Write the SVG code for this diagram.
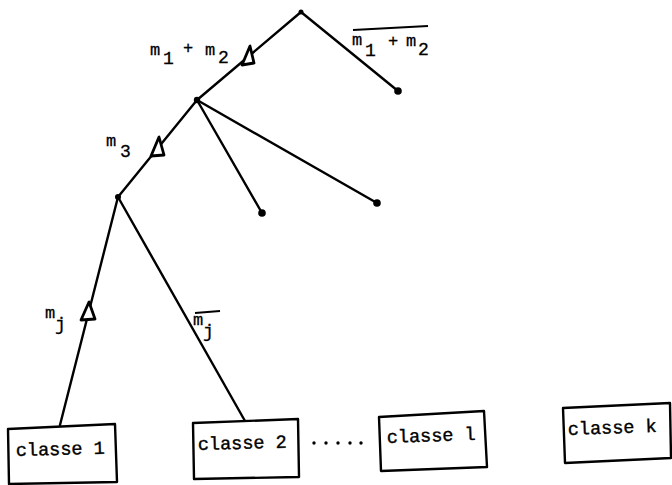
<svg xmlns="http://www.w3.org/2000/svg" width="672" height="485" viewBox="0 0 672 485">
<style>
.ln{stroke:#000;stroke-width:2.4;fill:none;stroke-linecap:round}
.box{stroke:#000;stroke-width:2.4;fill:#fff;stroke-linejoin:round}
.tri{stroke:#000;stroke-width:2.8;fill:#fff;stroke-linejoin:round}
.t{font-family:"Liberation Mono","DejaVu Sans Mono",monospace;font-size:18.5px;fill:#000;stroke:#000;stroke-width:0.4}
.m{font-family:"Liberation Mono","DejaVu Sans Mono",monospace;font-size:17px;fill:#000;stroke:#000;stroke-width:0.3}
.d{font-family:"Liberation Mono","DejaVu Sans Mono",monospace;font-size:18px;fill:#000;stroke:#000;stroke-width:0.3}
</style>
<rect width="672" height="485" fill="#fff"/>
<g id="connectors">
<line class="ln" x1="301" y1="12" x2="398" y2="91"/>
<line class="ln" x1="301" y1="12" x2="197" y2="100"/>
<line class="ln" x1="197" y1="100" x2="262" y2="213"/>
<line class="ln" x1="197" y1="100" x2="377" y2="203"/>
<line class="ln" x1="197" y1="100" x2="118" y2="197"/>
<line class="ln" x1="118" y1="197" x2="60" y2="425"/>
<line class="ln" x1="118" y1="197" x2="245" y2="421"/>
<polygon class="tri" points="250,46 242,65 254,63"/>
<polygon class="tri" points="159,137 151,156 164,155"/>
<polygon class="tri" points="89,302 81,320 95,319"/>
<line x1="353" y1="30" x2="428" y2="26" stroke="#000" stroke-width="2.2"/>
<line x1="195" y1="313" x2="220" y2="311" stroke="#000" stroke-width="2.2"/>
</g>
<g id="nodes">
<g id="root"><circle cx="301" cy="12" r="2.5"/></g>
<g id="n1"><circle cx="197" cy="100" r="3.2"/></g>
<g id="n2"><circle cx="118" cy="197" r="3"/></g>
<g id="leaf1"><circle cx="398" cy="91" r="3.8"/></g>
<g id="leaf2"><circle cx="262" cy="213" r="3.8"/></g>
<g id="leaf3"><circle cx="377" cy="203" r="3.8"/></g>
</g>
<g id="labels">
<text class="m" x="150" y="55">m</text><text class="d" x="163" y="64">1</text>
<text class="m" x="183" y="53">+</text>
<text class="m" x="205" y="55">m</text><text class="d" x="218" y="63">2</text>
<text class="m" x="352" y="45">m</text><text class="d" x="365" y="56">1</text>
<text class="m" x="388" y="46">+</text>
<text class="m" x="406" y="46">m</text><text class="d" x="418" y="55">2</text>
<text class="m" x="106" y="146">m</text><text class="d" x="120" y="157">3</text>
<text class="m" x="45" y="318">m</text><text class="d" x="55" y="330">j</text>
<text class="m" x="193" y="325">m</text><text class="d" x="203" y="337">j</text>
</g>
<g id="box1">
<polygon class="box" points="8,429 115,424 117,482 9,484"/>
<text class="t" x="16" y="456" transform="rotate(-1.5 16 456)">classe 1</text>
</g>
<g id="box2">
<polygon class="box" points="193,423 298,419 299,477 194,479"/>
<text class="t" x="198" y="450" transform="rotate(-1.5 198 450)">classe 2</text>
</g>
<g id="ellipsis">
<circle cx="314" cy="443" r="1.7"/><circle cx="326" cy="443" r="1.7"/><circle cx="338" cy="443" r="1.7"/><circle cx="350" cy="443" r="1.7"/><circle cx="361" cy="443" r="1.7"/>
</g>
<g id="box3">
<polygon class="box" points="379,417 484,411 487,467 381,471"/>
<text class="t" x="387" y="443" transform="rotate(-2 387 443)">classe l</text>
</g>
<g id="boxk">
<polygon class="box" points="563,408 670,403 671,458 565,463"/>
<text class="t" x="568" y="435" transform="rotate(-2 568 435)">classe k</text>
</g>
</svg>
